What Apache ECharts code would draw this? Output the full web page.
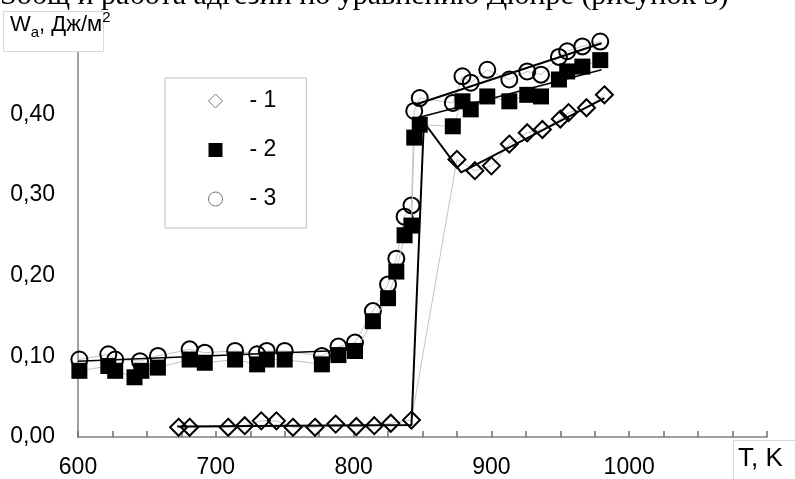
<!DOCTYPE html>
<html><head><meta charset="utf-8">
<script src="https://cdn.jsdelivr.net/npm/echarts@6/dist/echarts.min.js"></script>
<style>html,body{margin:0;padding:0;background:#fff}#c{width:795px;height:479px}</style>
</head><body><div id="c"></div>
<script>
// tick labels
const xTicks = [600, 700, 800, 900, 1000];
const yTicks = ['0,00', '0,10', '0,20', '0,30', '0,40'];
// series 1 (diamonds)
const s1T = [673, 681, 709, 721, 733, 744, 756, 772, 787, 802, 815, 827, 842, 875, 888, 900, 913, 926, 937, 950, 956, 969, 982];
const s1W = [0.012, 0.012, 0.012, 0.014, 0.020, 0.020, 0.012, 0.012, 0.016, 0.013, 0.014, 0.017, 0.021, 0.344, 0.330, 0.336, 0.363, 0.377, 0.381, 0.394, 0.402, 0.408, 0.424];
// series 2 (filled squares)
const s2T = [601, 622, 627, 641, 646, 658, 681, 692, 714, 730, 737, 750, 777, 789, 801, 814, 825, 831, 837, 842, 844, 848, 872, 879, 885, 897, 913, 926, 936, 949, 955, 966, 979];
const s2W = [0.082, 0.088, 0.082, 0.074, 0.082, 0.086, 0.096, 0.092, 0.096, 0.090, 0.096, 0.096, 0.090, 0.1015, 0.1066, 0.1435, 0.172, 0.205, 0.250, 0.262, 0.371, 0.387, 0.385, 0.416, 0.406, 0.422, 0.416, 0.424, 0.422, 0.443, 0.453, 0.459, 0.467];
// series 3 (open circles)
const s3T = [601, 622, 627, 645, 658, 681, 692, 714, 730, 737, 750, 777, 789, 801, 814, 825, 831, 837, 842, 844, 848, 872, 879, 885, 897, 913, 926, 936, 949, 955, 966, 979];
const s3W = [0.096, 0.1025, 0.096, 0.094, 0.1005, 0.1086, 0.1045, 0.1066, 0.1025, 0.1066, 0.1066, 0.1005, 0.112, 0.117, 0.156, 0.189, 0.221, 0.273, 0.287, 0.404, 0.420, 0.414, 0.447, 0.439, 0.455, 0.443, 0.453, 0.449, 0.471, 0.478, 0.484, 0.490];
// hand-drawn trend lines
const tr1T = [672, 842, 851, 878, 982];
const tr1W = [0.013, 0.015, 0.39, 0.328, 0.42];
const tr2T = [600, 803];
const tr2W = [0.094, 0.108];
const tr3T = [845, 980];
const tr3W = [0.412, 0.488];
const tr4T = [845, 980];
const tr4W = [0.395, 0.455];

const zip = (a, b) => a.map((v, i) => [v, b[i]]);
const font = 'Liberation Sans, Arial, sans-serif';
const thin = { color: '#c4c4c4', width: 1 };
const trendLine = (n, t, w, width) => ({
  name: n, type: 'line', data: zip(t, w), symbol: 'none', z: 5,
  lineStyle: { color: '#000', width: width }, silent: true
});

const chart = echarts.init(document.getElementById('c'), null, { renderer: 'canvas' });
chart.setOption({
  animation: false,
  backgroundColor: '#fff',
  grid: { left: 78, right: 28, top: 33.5, bottom: 39 },
  xAxis: {
    type: 'value', min: 600, max: 1100, interval: 100,
    axisLine: { lineStyle: { color: '#808080', width: 1.5 } },
    axisTick: { show: true, inside: true, length: 6, lineStyle: { color: '#707070', width: 1.5 } },
    minorTick: { show: true, splitNumber: 4, length: 6, lineStyle: { color: '#707070', width: 1.5 } },
    splitLine: { show: false },
    minorSplitLine: { show: false },
    axisLabel: { margin: 19, fontSize: 23, fontFamily: font, color: '#000',
      formatter: v => xTicks.includes(v) ? String(v) : '' }
  },
  yAxis: {
    type: 'value', min: 0, max: 0.5, interval: 0.1,
    axisLine: { show: true, lineStyle: { color: '#808080', width: 1.5 } },
    axisTick: { show: false },
    splitLine: { show: false },
    axisLabel: { margin: 23, fontSize: 23, fontFamily: font, color: '#000',
      formatter: v => yTicks[Math.round(v * 10)] || '' }
  },
  legend: {
    left: 165, top: 78, orient: 'vertical',
    backgroundColor: '#fff', borderColor: '#c0c0c0', borderWidth: 1, borderRadius: 0,
    padding: [11, 30, 17, 43], itemGap: 25, itemWidth: 14, itemHeight: 14,
    textStyle: { fontSize: 23, fontFamily: font, color: '#000', lineHeight: 24, padding: [0, 0, 0, 22] },
    data: [
      { name: '- 1', icon: 'diamond', itemStyle: { color: '#fff', borderColor: '#777', borderWidth: 1 } },
      { name: '- 2', icon: 'rect', itemStyle: { color: '#000', borderColor: '#000', borderWidth: 0 } },
      { name: '- 3', icon: 'circle', itemStyle: { color: '#fff', borderColor: '#777', borderWidth: 1 } }
    ]
  },
  series: [
    { name: '- 3', type: 'line', data: zip(s3T, s3W), symbol: 'circle', symbolSize: 16,
      lineStyle: thin, itemStyle: { color: 'rgba(0,0,0,0)', borderColor: '#000', borderWidth: 2 }, z: 2 },
    { name: '- 2', type: 'line', data: zip(s2T, s2W), symbol: 'rect', symbolSize: 16,
      lineStyle: thin, itemStyle: { color: '#000', borderColor: '#000', borderWidth: 0 }, z: 3 },
    { name: '- 1', type: 'line', data: zip(s1T, s1W), symbol: 'diamond', symbolSize: 17,
      lineStyle: thin, itemStyle: { color: 'rgba(0,0,0,0)', borderColor: '#000', borderWidth: 2 }, z: 4 },
    trendLine('t1', tr1T, tr1W, 2),
    trendLine('t2', tr2T, tr2W, 1.5),
    trendLine('t3', tr3T, tr3W, 2),
    trendLine('t4', tr4T, tr4W, 1.5)
  ],
  graphic: [
    { type: 'text', x: 0, y: -19, z: 11, style: {
      text: 'Sобщ и работа адгезии по уравнению Дюпре (рисунок 3)',
      fontSize: 30, fontFamily: 'Liberation Serif, Times New Roman, serif', fill: '#000' } },
    { type: 'rect', shape: { x: 3.5, y: 11.5, width: 100, height: 40 }, style: { fill: '#fff', stroke: '#d8d8d8', lineWidth: 1 }, z: 10 },
    { type: 'text', x: 10, y: 10, z: 11, style: {
      text: '{n|W}{s|a}{n|, Дж/м}{p|2}',
      rich: {
        n: { fontSize: 22, fontFamily: font, fill: '#000', lineHeight: 30, verticalAlign: 'middle' },
        s: { fontSize: 15, fontFamily: font, fill: '#000', lineHeight: 30, verticalAlign: 'bottom' },
        p: { fontSize: 15, fontFamily: font, fill: '#000', lineHeight: 30, verticalAlign: 'top' }
      } } },
    { type: 'rect', shape: { x: 733.5, y: 440.5, width: 70, height: 50 }, style: { fill: '#fff', stroke: '#d8d8d8', lineWidth: 1 }, z: 10 },
    { type: 'text', x: 738, y: 446, z: 11, style: { text: 'T, K', fontSize: 26, fontFamily: font, fill: '#000' } }
  ]
});
</script></body></html>
